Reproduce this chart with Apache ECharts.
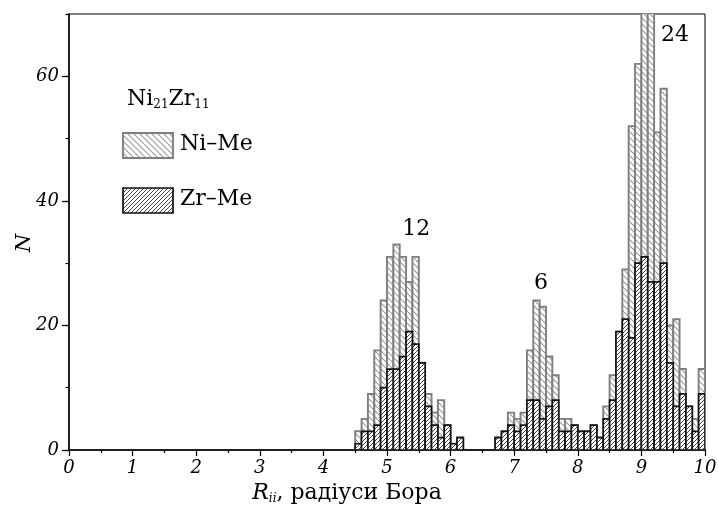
<!DOCTYPE html>
<html>
<head>
<meta charset="utf-8">
<script src="https://cdn.jsdelivr.net/npm/echarts@6/dist/echarts.min.js"></script>
<style>
  html, body { margin: 0; padding: 0; background: #fff; }
  #chart { width: 718px; height: 508px; }
</style>
</head>
<body>
<div id="chart"></div>
<script>
// ліві межі інтервалів гістограми, крок 0.1
var binLeft = [
  4.5, 4.6, 4.7, 4.8, 4.9, 5.0, 5.1, 5.2, 5.3, 5.4,
  5.5, 5.6, 5.7, 5.8, 5.9, 6.0, 6.1, 6.2, 6.3, 6.4,
  6.5, 6.6, 6.7, 6.8, 6.9, 7.0, 7.1, 7.2, 7.3, 7.4,
  7.5, 7.6, 7.7, 7.8, 7.9, 8.0, 8.1, 8.2, 8.3, 8.4,
  8.5, 8.6, 8.7, 8.8, 8.9, 9.0, 9.1, 9.2, 9.3, 9.4,
  9.5, 9.6, 9.7, 9.8, 9.9
];
var binWidth = 0.1;
// Ni–Me (сірі)
var niMe = [
  3, 5, 9, 16, 24, 31, 33, 31, 27, 31,
  14, 9, 6, 8, 4, 1, 2, 0, 0, 0,
  0, 0, 2, 3, 6, 5, 6, 16, 24, 23,
  15, 12, 5, 5, 4, 3, 3, 4, 2, 7,
  12, 19, 29, 52, 62, 74, 74, 51, 58, 20,
  21, 13, 7, 5, 13
];
// Zr–Me (чорні)
var zrMe = [
  1, 3, 3, 4, 10, 13, 13, 15, 19, 17,
  14, 7, 4, 2, 4, 1, 2, 0, 0, 0,
  0, 0, 2, 3, 4, 3, 4, 8, 8, 5,
  7, 8, 3, 3, 4, 3, 3, 4, 2, 5,
  8, 19, 21, 18, 30, 31, 27, 27, 30, 14,
  7, 9, 7, 3, 9
];
var xRange = [0, 10];
var yRange = [0, 70];
// підписи піків
var peakLabels = ['12', '6', '24'];
var peakPos = [[5.46, 35.5], [7.42, 26.8], [9.53, 66.6]];

var FONT = 'DejaVu Serif';

function hatch(size, color, lw, dir) {
  var c = document.createElement('canvas');
  c.width = size; c.height = size;
  var g = c.getContext('2d');
  g.fillStyle = '#fff';
  g.fillRect(0, 0, size, size);
  g.strokeStyle = color;
  g.lineWidth = lw;
  g.beginPath();
  for (var k = -1; k <= 1; k++) {
    var o = k * size;
    if (dir > 0) { g.moveTo(o, size); g.lineTo(o + size, 0); }
    else { g.moveTo(o, 0); g.lineTo(o + size, size); }
  }
  g.stroke();
  return c;
}

var niPat = { type: 'pattern', image: hatch(6, '#999', 1.1, -1), repeat: 'repeat' };
var zrPat = { type: 'pattern', image: hatch(4, '#333', 0.9, 1), repeat: 'repeat' };

var niStyle = { fill: niPat, stroke: '#7e7e7e', lineWidth: 1.9 };
var zrStyle = { fill: zrPat, stroke: '#111', lineWidth: 1.7 };

function barItem(style) {
  return function (params, api) {
    var v = api.value(1);
    if (!v) return null;
    var x0 = api.value(0);
    var p0 = api.coord([x0, v]);
    var p1 = api.coord([x0 + binWidth, 0]);
    return {
      type: 'rect',
      shape: { x: p0[0], y: p0[1], width: p1[0] - p0[0], height: p1[1] - p0[1] },
      style: style
    };
  };
}

var chart = echarts.init(document.getElementById('chart'));

chart.setOption({
  animation: false,
  backgroundColor: '#fff',
  grid: {
    left: 69, right: 13, top: 14, bottom: 58,
    outerBoundsMode: 'none',
    show: true, borderColor: '#000', borderWidth: 1
  },
  xAxis: {
    type: 'value',
    min: xRange[0], max: xRange[1], interval: 1,
    name: '{i|R}{s|ii}{n|, радіуси Бора}',
    nameLocation: 'middle',
    nameGap: 31,
    nameTextStyle: {
      padding: [0, 80, 0, 0],
      rich: {
        i: { fontFamily: FONT, fontStyle: 'italic', fontSize: 22, color: '#000' },
        s: { fontFamily: FONT, fontStyle: 'italic', fontSize: 12, color: '#000', padding: [11, 0, 0, 0] },
        n: { fontFamily: FONT, fontSize: 22, color: '#000' }
      }
    },
    axisLine: { lineStyle: { color: '#000', width: 1.5 } },
    axisTick: { inside: false, length: 6, lineStyle: { color: '#000', width: 1.2 } },
    minorTick: { show: true, splitNumber: 2, length: 3, lineStyle: { color: '#000', width: 1.2 } },
    splitLine: { show: false },
    axisLabel: {
      margin: 9, fontFamily: FONT, fontStyle: 'italic', fontSize: 18, color: '#000'
    }
  },
  yAxis: [{
    type: 'value',
    min: yRange[0], max: yRange[1], interval: 20,
    axisLine: { lineStyle: { color: '#000', width: 1.5 } },
    axisTick: { inside: false, length: 7, lineStyle: { color: '#000', width: 1.2 } },
    splitLine: { show: false },
    axisLabel: {
      margin: 10, showMaxLabel: false,
      fontFamily: FONT, fontStyle: 'italic', fontSize: 18, color: '#000'
    }
  }, {
    type: 'value',
    position: 'left',
    min: yRange[0], max: yRange[1], interval: 10,
    axisLine: { show: false },
    axisTick: { inside: false, length: 3.5, lineStyle: { color: '#000', width: 1.2 } },
    splitLine: { show: false },
    axisLabel: { show: false }
  }],
  series: [{
    type: 'custom',
    clip: true,
    renderItem: barItem(niStyle),
    encode: { x: 0, y: 1 },
    data: binLeft.map(function (x, i) { return [x, niMe[i]]; }),
    z: 2
  }, {
    type: 'custom',
    clip: true,
    renderItem: barItem(zrStyle),
    encode: { x: 0, y: 1 },
    data: binLeft.map(function (x, i) { return [x, zrMe[i]]; }),
    z: 3
  }]
});

// легенда, назва осі N і підписи піків
var graphics = [
  {
    type: 'text', x: 25, y: 243, rotation: Math.PI / 2,
    style: {
      text: 'N', fontFamily: FONT, fontStyle: 'italic', fontSize: 21, fill: '#000',
      align: 'center', verticalAlign: 'middle'
    }
  },
  {
    type: 'text', left: 127, top: 88,
    style: {
      text: '{b|Ni}{s|21}{b|Zr}{s|11}',
      rich: {
        b: { fontFamily: FONT, fontSize: 22, color: '#000' },
        s: { fontFamily: FONT, fontSize: 12, color: '#000', padding: [12, 0, 0, 0] }
      }
    }
  },
  { type: 'rect', shape: { x: 123, y: 133, width: 50, height: 25 }, style: niStyle },
  { type: 'text', left: 180, top: 133, style: { text: 'Ni–Me', fontFamily: FONT, fontSize: 22, fill: '#000' } },
  { type: 'rect', shape: { x: 123, y: 188, width: 50, height: 25 }, style: zrStyle },
  { type: 'text', left: 180, top: 188, style: { text: 'Zr–Me', fontFamily: FONT, fontSize: 22, fill: '#000' } }
];
peakLabels.forEach(function (t, i) {
  var p = chart.convertToPixel({ gridIndex: 0 }, peakPos[i]);
  graphics.push({
    type: 'text', x: p[0], y: p[1],
    style: { text: t, fontFamily: FONT, fontSize: 22, fill: '#000', align: 'center', verticalAlign: 'middle' }
  });
});
chart.setOption({ graphic: graphics });
</script>
</body>
</html>
